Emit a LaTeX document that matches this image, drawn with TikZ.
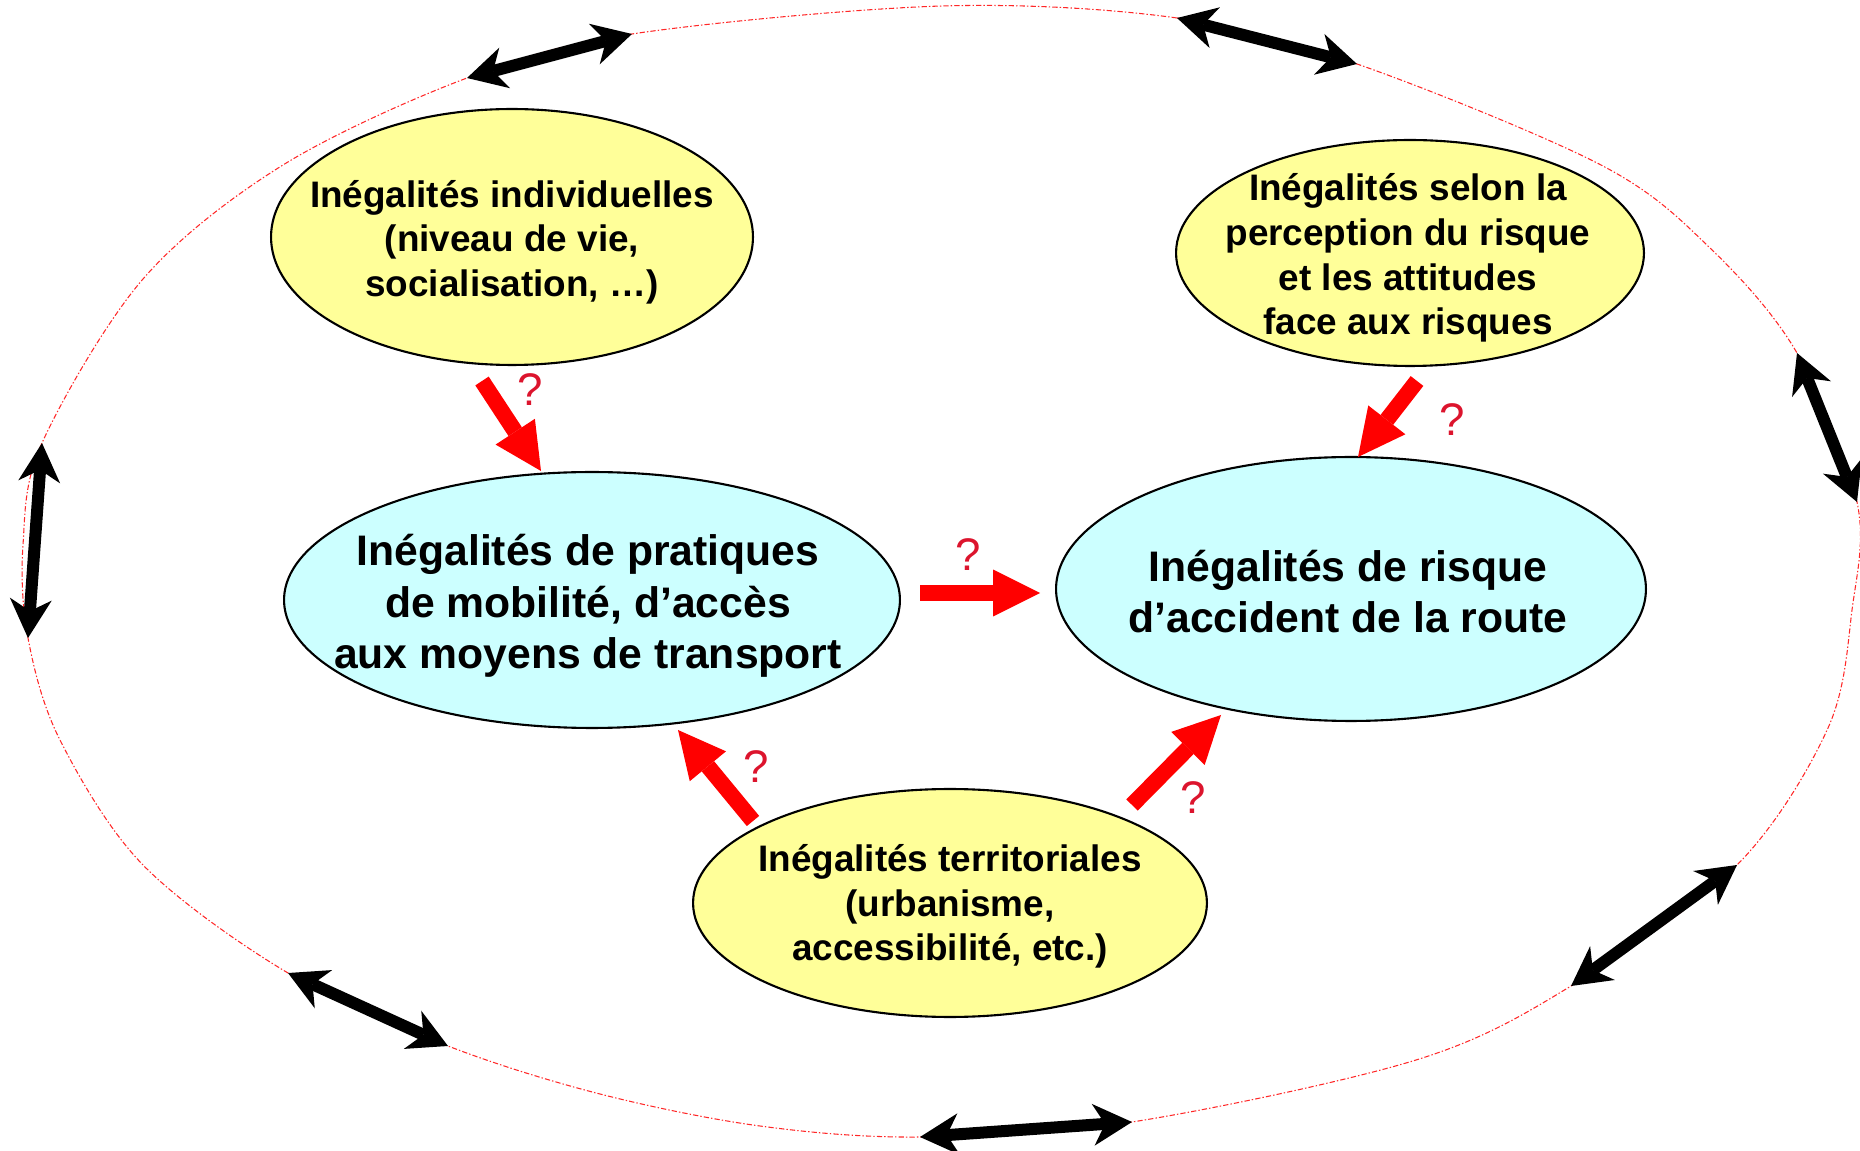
\documentclass[tikz,border=0pt]{standalone}
\usepackage{fontspec}
\setmainfont{Liberation Sans}
\usetikzlibrary{arrows.meta,shapes.geometric}
\definecolor{ylw}{RGB}{255,255,153}
\definecolor{cyn}{RGB}{204,255,255}
\definecolor{qred}{RGB}{220,20,45}
\definecolor{ored}{RGB}{255,40,40}
\begin{document}
\begin{tikzpicture}[x=0.02cm,y=-0.02cm,
  ell/.style={ellipse, draw=black, line width=1.2pt, inner sep=0pt},
  txts/.style={align=center, inner sep=0pt, font=\fontsize{21}{25.4}\selectfont\bfseries},
  txtb/.style={align=center, inner sep=0pt, font=\fontsize{24.3}{29.2}\selectfont\bfseries},
  redarr/.style={draw=red, line width=0.32cm, -{Triangle[length=0.94cm,width=0.94cm,line width=0pt]}},
  blkarr/.style={draw=black, line width=0.24cm,
    {Stealth[length=0.78cm,width=0.84cm,inset=0.24cm,line width=0pt]}-{Stealth[length=0.78cm,width=0.84cm,inset=0.24cm,line width=0pt]}},
  qm/.style={text=qred, inner sep=0pt, font=\fontsize{26}{30}\selectfont},
  outer/.style={draw=ored, line width=0.6pt, dash pattern=on 3pt off 1.2pt on 0.8pt off 1.2pt}
]
\useasboundingbox (0,0) rectangle (1860,1151);

% outer dash-dot loop
\draw[outer] plot[smooth cycle, tension=0.55] coordinates {
  (942,6) (1177,18) (1357,64) (1601,165) (1710,248) (1797,353) (1857,502)
  (1852,610) (1828,728) (1737,865) (1571,986) (1416,1060) (1132,1122)
  (920,1137) (760,1126) (600,1094) (448,1046) (288,973) (143,865) (60,740)
  (28,638) (23,545) (42,443) (143,279) (283,165) (467,78) (632,34)};

% ellipses
\node[ell, fill=ylw, minimum width=9.64cm, minimum height=5.12cm] (indiv) at (512,237) {};
\node[txts] (indivt) at ([yshift=-0.1cm]indiv.center) {Inégalités individuelles\\(niveau de vie,\\socialisation, …)};

\node[ell, fill=ylw, minimum width=9.36cm, minimum height=4.52cm] (perc) at (1410,253) {};
\node[txts] (perct) at ([xshift=-0.04cm,yshift=-0.1cm]perc.center) {Inégalités selon la\\perception du risque\\et les attitudes\\face aux risques};

\node[ell, fill=cyn, minimum width=12.32cm, minimum height=5.12cm] (prat) at (592,600) {};
\node[txtb] (pratt) at ([xshift=-0.08cm,yshift=-0.12cm]prat.center) {Inégalités de pratiques\\de mobilité, d’accès\\aux moyens de transport};

\node[ell, fill=cyn, minimum width=11.8cm, minimum height=5.28cm] (risk) at (1351,589) {};
\node[txtb] (riskt) at ([xshift=-0.06cm,yshift=-0.05cm]risk.center) {Inégalités de risque\\d’accident de la route};

\node[ell, fill=ylw, minimum width=10.28cm, minimum height=4.56cm] (terr) at (950,903) {};
\node[txts] (terrt) at ([yshift=-0.07cm]terr.center) {Inégalités territoriales\\(urbanisme,\\accessibilité, etc.)};

% red arrows
\coordinate (r1s) at (482,381); \coordinate (r1e) at (541,471);
\coordinate (r2s) at (1417,381); \coordinate (r2e) at (1358,457);
\coordinate (r3s) at (920,593); \coordinate (r3e) at (1040,593);
\coordinate (r4s) at (753,821); \coordinate (r4e) at (678,730);
\coordinate (r5s) at (1132,805); \coordinate (r5e) at (1221,715);
\draw[redarr] (r1s) -- (r1e);
\draw[redarr] (r2s) -- (r2e);
\draw[redarr] (r3s) -- (r3e);
\draw[redarr] (r4s) -- (r4e);
\draw[redarr] (r5s) -- (r5e);

\node[qm] (q1) at (530,390) {?};
\node[qm] (q2) at (1452,420) {?};
\node[qm] (q3) at (968,555) {?};
\node[qm] (q4) at (756,767) {?};
\node[qm] (q5) at (1193,798) {?};

% black double arrows
\coordinate (b1a) at (467,78);   \coordinate (b1b) at (632,34);
\coordinate (b2a) at (1177,18);  \coordinate (b2b) at (1357,64);
\coordinate (b3a) at (1797,353); \coordinate (b3b) at (1857,502);
\coordinate (b4a) at (42,443);   \coordinate (b4b) at (28,638);
\coordinate (b5a) at (288,973);  \coordinate (b5b) at (448,1046);
\coordinate (b6a) at (920,1137); \coordinate (b6b) at (1132,1122);
\coordinate (b7a) at (1571,986); \coordinate (b7b) at (1737,865);
\draw[blkarr] (b1a) -- (b1b);
\draw[blkarr] (b2a) -- (b2b);
\draw[blkarr] (b3a) -- (b3b);
\draw[blkarr] (b4a) -- (b4b);
\draw[blkarr] (b5a) -- (b5b);
\draw[blkarr] (b6a) -- (b6b);
\draw[blkarr] (b7a) -- (b7b);
\end{tikzpicture}
\end{document}
